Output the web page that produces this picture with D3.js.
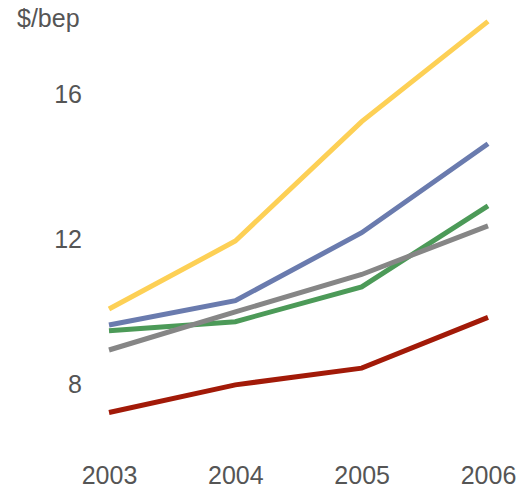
<!DOCTYPE html>
<html>
<head>
<meta charset="utf-8">
<script src="https://cdn.jsdelivr.net/npm/d3@7"></script>
<style>
  body { margin: 0; background: #fff; }
  text { font-family: "Liberation Sans", Arial, sans-serif; fill: #555; }
</style>
</head>
<body>
<div id="chart"></div>
<script>
// data
const years = ["2003", "2004", "2005", "2006"];
const yellowVals = [10.08, 11.95, 15.24, 18.0];
const blueVals = [9.64, 10.31, 12.18, 14.63];
const greenVals = [9.48, 9.73, 10.69, 12.92];
const grayVals = [8.95, 10.0, 11.03, 12.37];
const redVals = [7.23, 7.99, 8.45, 9.85];
const yTicks = [8, 12, 16];

const series = [
  { vals: yellowVals, color: "#FDD055" },
  { vals: blueVals, color: "#6A7BAE" },
  { vals: greenVals, color: "#4C9A58" },
  { vals: grayVals, color: "#868686" },
  { vals: redVals, color: "#A21A08" }
];

const W = 518, H = 496;
const svg = d3.select("#chart").append("svg")
  .attr("width", W).attr("height", H);

const x = d3.scalePoint().domain(years).range([109, 488]);
const y = d3.scaleLinear().domain([8, 16]).range([384.5, 94]);

// y axis
const yAxis = svg.append("g")
  .attr("transform", "translate(92,0)")
  .call(d3.axisLeft(y).tickValues(yTicks).tickSize(0).tickPadding(10));
yAxis.select(".domain").remove();
yAxis.selectAll("text").style("font-size", "25px").attr("fill", "#555");

// x axis
const xAxis = svg.append("g")
  .attr("transform", "translate(0,466)")
  .call(d3.axisBottom(x).tickSize(0).tickPadding(0));
xAxis.select(".domain").remove();
xAxis.selectAll("text").style("font-size", "25px").attr("fill", "#555");

// unit label
svg.append("text")
  .attr("x", 17).attr("y", 27)
  .style("font-size", "25px")
  .text("$/bep");

// lines
const line = d3.line()
  .x((d, i) => x(years[i]))
  .y(d => y(d));

svg.selectAll("path.series")
  .data(series)
  .enter()
  .append("path")
  .attr("class", "series")
  .attr("d", d => line(d.vals))
  .attr("fill", "none")
  .attr("stroke", d => d.color)
  .attr("stroke-width", 5);
</script>
</body>
</html>
